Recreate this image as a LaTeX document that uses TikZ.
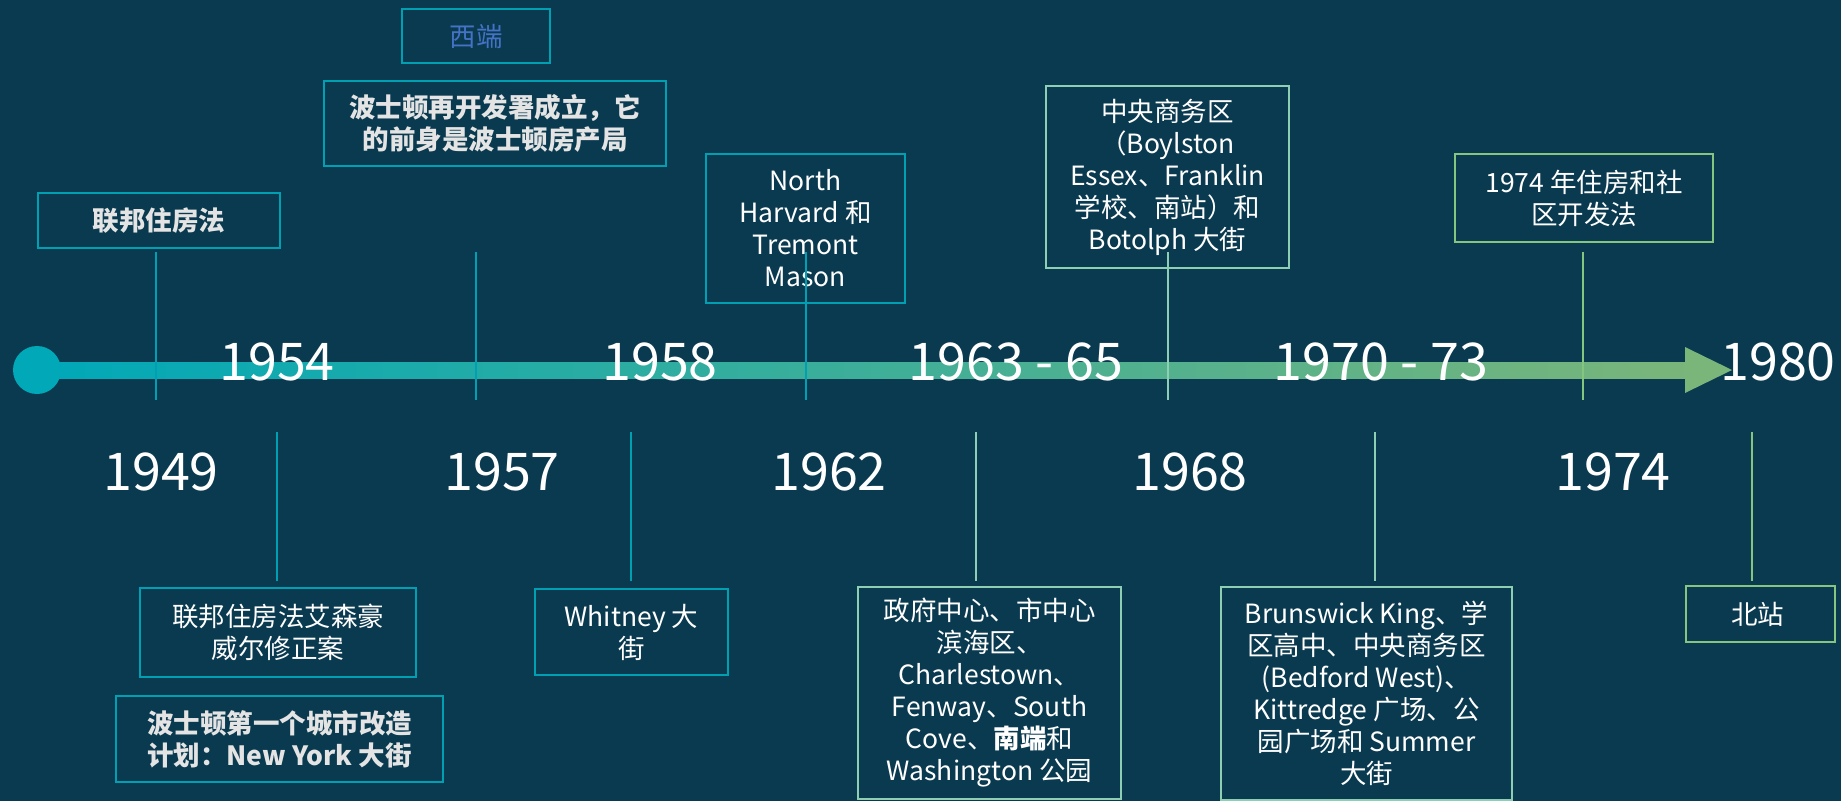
\documentclass[tikz,border=0pt]{standalone}
\usepackage{fontspec}
\setmainfont{Noto Sans CJK SC}
\definecolor{bgDark}{RGB}{10,58,80}
\definecolor{lineTeal}{RGB}{0,160,178}
\definecolor{lineMint}{RGB}{142,206,178}
\definecolor{lineGreen}{RGB}{132,198,128}
\definecolor{barStart}{RGB}{0,168,184}
\definecolor{barEnd}{RGB}{122,181,122}
\definecolor{westBlue}{RGB}{68,114,196}
\definecolor{boldGrey}{RGB}{228,228,228}
\begin{document}
\begin{tikzpicture}[x=1pt,y=-1pt,
    every node/.style={text=white,font=\fontsize{26.5}{32}\selectfont},
    event/.style={draw=#1,line width=2pt,align=center,inner sep=0pt},
    plain/.style={},
    strong/.style={text=boldGrey,font=\fontsize{26.5}{32}\selectfont\bfseries},
    link/.style={text=westBlue},
    year/.style={font=\fontsize{52}{52}\selectfont,inner sep=0pt},
    stem/.style={draw=#1,line width=2pt}]

      \useasboundingbox (0,0) rectangle (1841,801);
      \fill[bgDark] (0,0) rectangle (1841,801);

      % draw the time bar
      \shade[left color=barStart,right color=barEnd] (37,362) rectangle (1690,378);
      \node[circle,fill=barStart,inner sep=0pt,minimum size=48pt] (start) at (37,370) {};
      \fill[barEnd] (1685,347) -- (1732,370) -- (1685,393) -- cycle;

      % draw the event boxes
      \def\events{
        159/220.5/242/55/lineTeal/strong/{联邦住房法},
        476/36/148/54/lineTeal/link/{西端},
        495/123.5/342/85/lineTeal/strong/{波士顿再开发署成立，它\\的前身是波士顿房产局},
        805.5/228.5/199/149/lineTeal/plain/{North\\Harvard 和\\Tremont\\Mason},
        1167.5/177/243/182/lineMint/plain/{中央商务区\\（Boylston\\Essex、Franklin\\学校、南站）和\\Botolph 大街},
        1584/198/258/88/lineGreen/plain/{1974 年住房和社\\区开发法},
        278/632.5/276/89/lineTeal/plain/{联邦住房法艾森豪\\威尔修正案},
        279.5/739/327/86/lineTeal/strong/{波士顿第一个城市改造\\计划：New York 大街},
        631.5/632/193/86/lineTeal/plain/{Whitney 大\\街},
        989.5/693/263/212/lineMint/plain/{政府中心、市中心\\滨海区、\\Charlestown、\\Fenway、South\\Cove、{\bfseries 南端}和\\Washington 公园},
        1366.5/693.5/291/213/lineMint/plain/{Brunswick King、学\\区高中、中央商务区\\(Bedford West)、\\Kittredge 广场、公\\园广场和 Summer\\大街},
        1760.5/614/149/56/lineGreen/plain/{北站}
      }
      \foreach \x/\y/\w/\h/\c/\s/\t [count=\ni] in \events
        \node[event=\c,\s,minimum width=\w pt,minimum height=\h pt] (box\ni) at (\x,\y) {\t};

      % draw the stems above the bar
      \foreach \x/\c [count=\ni] in {156/lineTeal,476/lineTeal,805.5/lineTeal,1167.5/lineMint,1583/lineGreen}
      {
        \coordinate (ta\ni) at (\x,252);
        \coordinate (tb\ni) at (\x,400);
        \draw[stem=\c] (ta\ni) -- (tb\ni);
      }

      % draw the stems below the bar
      \foreach \x/\c [count=\ni] in {277/lineTeal,631/lineTeal,976/lineMint,1375/lineMint,1752/lineGreen}
      {
        \coordinate (ba\ni) at (\x,432);
        \coordinate (bb\ni) at (\x,581);
        \draw[stem=\c] (ba\ni) -- (bb\ni);
      }

      % label the years
      \foreach \x/\n [count=\ni] in {277/1954,660/1958,1016/1963 - 65,1381/1970 - 73,1778/1980}
        \node[year] (up\ni) at (\x,361.5) {\n};
      \foreach \x/\n [count=\ni] in {161/1949,502/1957,829/1962,1190/1968,1613/1974}
        \node[year] (down\ni) at (\x,471.5) {\n};

\end{tikzpicture}
\end{document}
